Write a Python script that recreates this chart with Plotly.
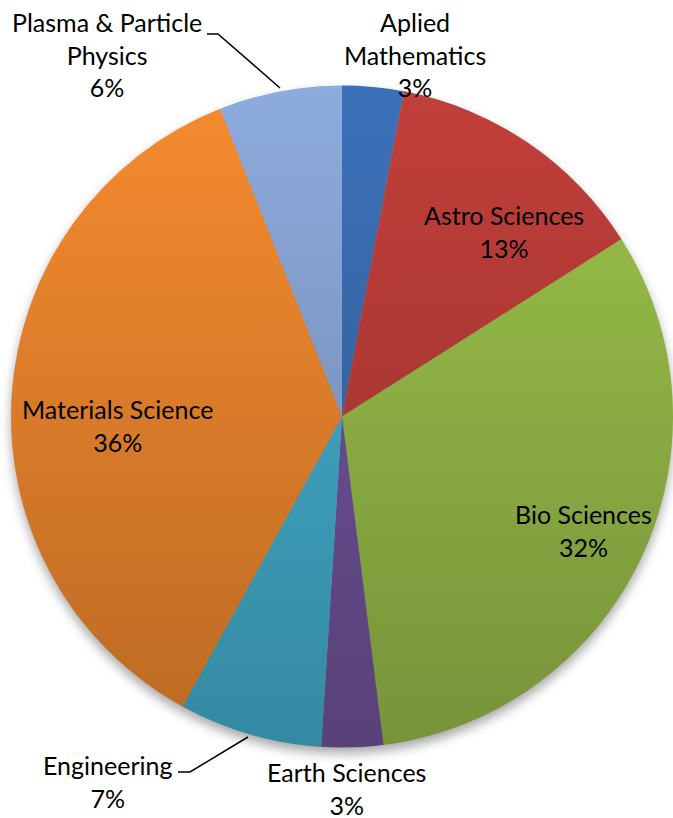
import base64
import plotly.graph_objects as go

# Share of allocation by research field (percent), clockwise from 12 o'clock
fields = ["Aplied Mathematics", "Astro Sciences", "Bio Sciences", "Earth Sciences",
          "Engineering", "Materials Science", "Plasma & Particle Physics"]
shares = [3, 13, 32, 3, 7, 36, 6]
label_names = ["Aplied<br>Mathematics", "Astro Sciences", "Bio Sciences", "Earth Sciences",
               "Engineering", "Materials Science", "Plasma & Particle<br>Physics"]
colors = ["#3C71B9", "#C23F3A", "#9CC24B", "#74559F", "#45B4D4", "#F68B2F", "#8DABDD"]

W, H = 673, 818


def px(x):
    return x / W


def py(y):
    return 1 - y / H


# pie geometry (pixels)
cx, cy, r = 342, 416.5, 331
dom_x = [px(cx - r), px(cx + r)]
dom_y = [py(cy + r), py(cy - r)]

fig = go.Figure(go.Pie(
    labels=fields,
    values=shares,
    sort=False,
    direction="clockwise",
    rotation=0,
    marker=dict(colors=colors, line=dict(width=0)),
    textinfo="none",
    hoverinfo="label+percent",
    showlegend=False,
    domain=dict(x=dom_x, y=dom_y),
))

# vertical shading over the disc (lighter top, darker bottom)
shade_svg = (
    '<svg xmlns="http://www.w3.org/2000/svg" viewBox="0 0 100 100" preserveAspectRatio="none">'
    '<defs><linearGradient id="g" x1="0" y1="0" x2="0" y2="1">'
    '<stop offset="0" stop-color="#000" stop-opacity="0"/>'
    '<stop offset="1" stop-color="#000" stop-opacity="0.24"/>'
    '</linearGradient></defs>'
    '<circle cx="50" cy="50" r="50" fill="url(#g)"/></svg>'
)
# soft drop shadow under the disc
shadow_svg = (
    '<svg xmlns="http://www.w3.org/2000/svg" viewBox="-10 -10 120 120" preserveAspectRatio="none">'
    '<defs><filter id="b" x="-20%" y="-20%" width="140%" height="140%">'
    '<feGaussianBlur stdDeviation="0.8"/></filter></defs>'
    '<circle cx="50" cy="50.9" r="50" fill="#000" fill-opacity="0.35" filter="url(#b)"/></svg>'
)


def data_uri(svg):
    return "data:image/svg+xml;base64," + base64.b64encode(svg.encode()).decode()


pad = 2 * r * 10 / 100
fig.add_layout_image(dict(
    source=data_uri(shadow_svg), xref="paper", yref="paper",
    x=px(cx - r - pad), y=py(cy - r - pad),
    sizex=(2 * r + 2 * pad) / W, sizey=(2 * r + 2 * pad) / H,
    sizing="stretch", xanchor="left", yanchor="top", layer="below",
))
fig.add_layout_image(dict(
    source=data_uri(shade_svg), xref="paper", yref="paper",
    x=px(cx - r), y=py(cy - r),
    sizex=2 * r / W, sizey=2 * r / H,
    sizing="stretch", xanchor="left", yanchor="top", layer="above",
))

# data label placement (pixel centres of each text block)
label_pos = [(415, 55), (504, 231), (583, 530), (347, 788),
             (107, 781), (117, 425), (107, 55)]
font = dict(family="Lato, 'Open Sans', sans-serif", size=25, color="#000000")
for name, share, (x, y) in zip(label_names, shares, label_pos):
    fig.add_annotation(
        x=px(x), y=py(y), xref="paper", yref="paper",
        text=f"{name}<br>{share}%", showarrow=False,
        xanchor="center", yanchor="middle", align="center", font=font,
    )

# leader lines for the labels placed outside the disc
leaders = [
    [(207, 34), (218, 34), (280, 88)],
    [(178, 772), (190, 772), (248, 737)],
]
for pts in leaders:
    path = "M " + " L ".join(f"{px(x)},{py(y)}" for x, y in pts)
    fig.add_shape(type="path", path=path, xref="paper", yref="paper",
                  line=dict(color="#000000", width=1.5), layer="above")

fig.update_layout(
    width=W, height=H,
    margin=dict(l=0, r=0, t=0, b=0),
    paper_bgcolor="white",
    plot_bgcolor="white",
)

fig.write_html("out.html")
